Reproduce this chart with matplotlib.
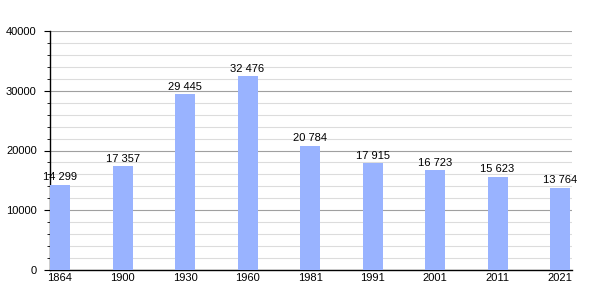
import matplotlib
matplotlib.use("Agg")
import matplotlib.pyplot as plt
from matplotlib.ticker import MultipleLocator

plt.rcParams["font.family"] = ["Liberation Sans", "DejaVu Sans"]

years = ["1864", "1900", "1930", "1960", "1981", "1991", "2001", "2011", "2021"]
population = [14299, 17357, 29445, 32476, 20784, 17915, 16723, 15623, 13764]
labels = ["14 299", "17 357", "29 445", "32 476", "20 784", "17 915", "16 723", "15 623", "13 764"]

fig = plt.figure(figsize=(6, 3), dpi=100)
ax = fig.add_axes([50/600, 30/300, 522/600, 239/300])

x = list(range(len(years)))
ax.bar(x, population, width=0.32, color="#99b3ff", zorder=3)
for xi, v, lab in zip(x, population, labels):
    ax.text(xi, v + 400, lab, ha="center", va="bottom", fontsize=8, color="black", zorder=4)

ax.set_ylim(0, 40000)
ax.set_xlim(-0.16, 8.19)
ax.yaxis.set_major_locator(MultipleLocator(10000))
ax.yaxis.set_minor_locator(MultipleLocator(2000))
ax.grid(which="major", axis="y", color="#a0a0a0", linewidth=0.8, zorder=0)
ax.grid(which="minor", axis="y", color="#dcdcdc", linewidth=0.8, zorder=0)
ax.set_xticks(x)
ax.set_xticklabels(years)
ax.tick_params(axis="x", length=0, labelsize=8, pad=2)
ax.tick_params(axis="y", which="major", length=4, labelsize=8, direction="out", pad=5.5)
ax.tick_params(axis="y", which="minor", length=2.5, direction="out")
for s in ["top", "right"]:
    ax.spines[s].set_visible(False)
ax.spines["left"].set_linewidth(1)
ax.spines["bottom"].set_linewidth(1)

fig.savefig("out.png", dpi=100)
